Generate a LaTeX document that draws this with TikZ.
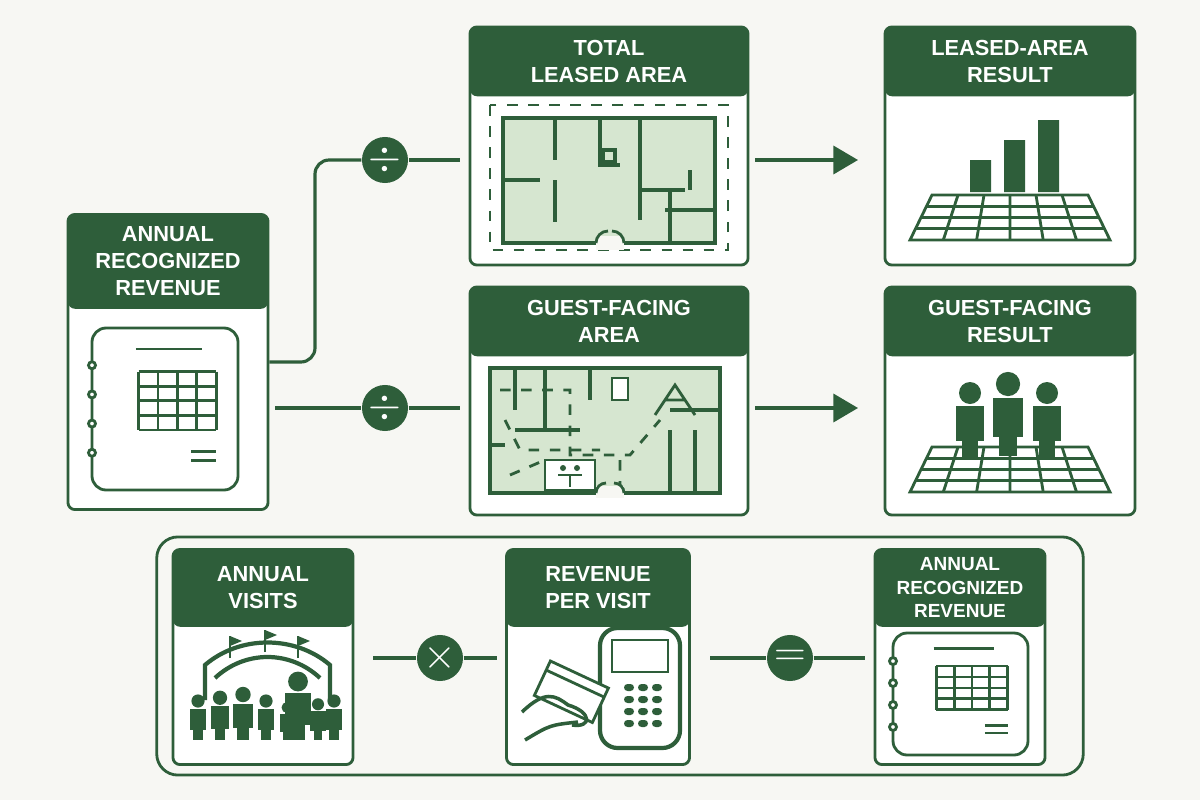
\documentclass[tikz,border=0pt]{standalone}
\usepackage{fontspec}
\setmainfont{Liberation Sans}
\usetikzlibrary{arrows.meta,positioning}
\definecolor{dk}{HTML}{2E5E3A}
\definecolor{lt}{HTML}{D6E6D0}
\definecolor{bg}{HTML}{F7F7F3}
\tikzset{
  panel/.style={draw=dk,line width=0.8pt,rounded corners=2pt,fill=white,inner sep=0pt},
  head/.style={fill=dk,text=white,rounded corners=2pt,inner sep=0pt,align=center,
    font=\fontsize{6.2}{7.6}\selectfont\bfseries},
  op/.style={circle,fill=dk,text=white,minimum size=0.46cm,inner sep=0pt,font=\bfseries\large},
  link/.style={draw=dk,line width=0.9pt},
  ink/.style={draw=dk,line width=0.8pt},
  person/.style={fill=dk}
}
\newcommand\ledger[4]{% x, y, width, height
  \begin{scope}[shift={(#1,#2)}]
    \draw[ink,rounded corners=4pt] (0,0) rectangle (#3,#4);
    \foreach \k in {1,...,4} \draw[ink,fill=white] (0,{#4*(0.05+0.18*\k)}) circle (3.5);
    \draw[ink] ({#3*0.3},{#4*0.13}) -- ({#3*0.75},{#4*0.13});
    \foreach \r in {0,...,4} \draw[ink] ({#3*0.32},{#4*(0.27+0.09*\r)}) -- ({#3*0.85},{#4*(0.27+0.09*\r)});
    \foreach \c in {0,...,4} \draw[ink] ({#3*(0.32+0.1325*\c)},{#4*0.27}) -- ({#3*(0.32+0.1325*\c)},{#4*0.63});
    \draw[ink] ({#3*0.68},{#4*0.76}) -- ({#3*0.85},{#4*0.76});
    \draw[ink] ({#3*0.68},{#4*0.82}) -- ({#3*0.85},{#4*0.82});
  \end{scope}}
\newcommand\floorgrid[1]{% top y
  \draw[ink,fill=white] (932,#1) -- (1088,#1) -- (1110,#1+45) -- (910,#1+45) -- cycle;
  \foreach \t in {0.25,0.5,0.75} \draw[ink] (932-22*\t,#1+45*\t) -- (1088+22*\t,#1+45*\t);
  \foreach \s in {1,...,5} \draw[ink] (932+26*\s,#1) -- (910+33.3*\s,#1+45);}
\newcommand\visitor[3]{% x, head y, scale
  \fill[person] (#1,#2) circle (11*#3);
  \fill[person] (#1-14*#3,#2+13*#3) rectangle (#1+14*#3,#2+48*#3);
  \fill[person] (#1-8*#3,#2+45*#3) rectangle (#1+8*#3,#2+65*#3);}
\begin{document}
\begin{tikzpicture}[x=0.01cm,y=-0.01cm]
\useasboundingbox[fill=bg] (0,0) rectangle (1200,800);

% panels
\node[panel,minimum width=2cm,minimum height=2.95cm] (rev) at (168,362) {};
\node[head,minimum width=2cm,minimum height=0.95cm,anchor=north] (revh) at (rev.north) {ANNUAL\\RECOGNIZED\\REVENUE};
\node[panel,minimum width=2.78cm,minimum height=2.38cm] (lease) at (609,146) {};
\node[head,minimum width=2.78cm,minimum height=0.7cm,anchor=north] (leaseh) at (lease.north) {TOTAL\\LEASED AREA};
\node[panel,minimum width=2.5cm,minimum height=2.38cm] (lres) at (1010,146) {};
\node[head,minimum width=2.5cm,minimum height=0.7cm,anchor=north] (lresh) at (lres.north) {LEASED-AREA\\RESULT};
\node[panel,minimum width=2.78cm,minimum height=2.28cm] (guest) at (609,401) {};
\node[head,minimum width=2.78cm,minimum height=0.7cm,anchor=north] (guesth) at (guest.north) {GUEST-FACING\\AREA};
\node[panel,minimum width=2.5cm,minimum height=2.28cm] (gres) at (1010,401) {};
\node[head,minimum width=2.5cm,minimum height=0.7cm,anchor=north] (gresh) at (gres.north) {GUEST-FACING\\RESULT};

\node[panel,rounded corners=6pt,fill=none,minimum width=9.26cm,minimum height=2.38cm] (calc) at (620,656) {};
\node[panel,minimum width=1.8cm,minimum height=2.15cm] (visits) at (263,657) {};
\node[head,minimum width=1.8cm,minimum height=0.78cm,anchor=north] (visitsh) at (visits.north) {ANNUAL\\VISITS};
\node[panel,minimum width=1.83cm,minimum height=2.15cm] (pervisit) at (598,657) {};
\node[head,minimum width=1.83cm,minimum height=0.78cm,anchor=north] (pervisith) at (pervisit.north) {REVENUE\\PER VISIT};
\node[panel,minimum width=1.7cm,minimum height=2.15cm] (rev2) at (960,657) {};
\node[head,minimum width=1.7cm,minimum height=0.78cm,anchor=north,font=\fontsize{5.4}{6.6}\selectfont\bfseries] (rev2h) at (rev2.north) {ANNUAL\\RECOGNIZED\\REVENUE};

% operators
\node[op] (div1) at (385,160) {$\div$};
\node[op] (div2) at (385,408) {$\div$};
\node[op] (times) at (440,658) {$\times$};
\node[op] (equal) at (790,658) {$=$};

% connectors
\coordinate (top) at (460,160);
\coordinate (split) at (275,408);
\coordinate (a1) at (755,160);
\coordinate (a2) at (858,160);
\coordinate (b1) at (755,408);
\coordinate (b2) at (858,408);
\coordinate (c1) at (373,658);
\coordinate (c2) at (497,658);
\coordinate (d1) at (710,658);
\coordinate (d2) at (865,658);
\draw[link,rounded corners=4pt] (rev.east) -- (315,362) -- (315,160) -- (div1);
\draw[link] (div1) -- (top);
\draw[link] (split) -- (div2) -- (460,408);
\draw[link,-{Triangle[length=7pt,width=8pt]}] (a1) -- (a2);
\draw[link,-{Triangle[length=7pt,width=8pt]}] (b1) -- (b2);
\draw[link] (c1) -- (times) -- (c2);
\draw[link] (d1) -- (equal) -- (d2);

% ledgers
\ledger{92}{328}{146}{162}
\ledger{893}{633}{135}{122}

% leased plan
\draw[ink,dashed] (490,105) rectangle (728,250);
\draw[ink,fill=lt] (503,118) rectangle (715,243);
\draw[ink,line width=1.3pt] (503,118) rectangle (715,243);
\draw[ink,line width=1.3pt] (555,118) -- (555,160) (503,180) -- (540,180) (555,180) -- (555,222)
  (600,118) -- (600,165) -- (620,165) (640,118) -- (640,220) (640,190) -- (685,190)
  (665,210) -- (715,210) (670,190) -- (670,243) (690,170) -- (690,190) (603,150) rectangle (615,162);
\fill[bg] (596,236) rectangle (624,250);
\draw[ink] (596,243) arc (180:270:12) (624,243) arc (0:-90:12);

% bar chart
\floorgrid{195}
\fill[dk] (970,160) rectangle (991,192) (1004,140) rectangle (1025,192) (1038,120) rectangle (1059,192);

% guest plan
\draw[ink,fill=lt,line width=1.3pt] (490,368) rectangle (720,493);
\draw[ink,line width=1.3pt] (515,368) -- (515,410) (545,368) -- (545,430) (515,430) -- (580,430) (590,368) -- (590,400)
  (670,410) -- (720,410) (670,430) -- (670,493) (695,430) -- (695,493) (490,445) -- (505,445);
\draw[ink,dashed] (500,390) -- (570,390) -- (570,455) -- (630,455) -- (660,420) (505,420) -- (520,450) -- (600,450)
  (510,475) -- (545,460) (620,460) -- (620,485);
\draw[ink,fill=white] (545,460) rectangle (595,490);
\draw[ink] (558,475) -- (582,475) (570,475) -- (570,487);
\fill[dk] (563,468) circle (3) (577,468) circle (3);
\draw[ink,fill=white] (612,378) rectangle (628,400);
\draw[ink] (655,415) -- (675,385) -- (695,415) (665,400) -- (685,400);
\fill[bg] (596,486) rectangle (624,498);
\draw[ink] (596,493) arc (180:270:10) (624,493) arc (0:-90:10);

% people result
\floorgrid{447}
\visitor{970}{393}{1}
\visitor{1008}{384}{1.1}
\visitor{1047}{393}{1}

% visits icon
\draw[ink,line width=1.2pt] (205,700) -- (205,665) .. controls (240,635) and (295,635) .. (330,665) -- (330,700);
\draw[ink,line width=1.2pt] (215,678) .. controls (245,650) and (290,650) .. (320,678);
\foreach \fx/\fy in {230/648,265/642,298/648} {
  \draw[ink] (\fx,\fy+10) -- (\fx,\fy-12);
  \fill[dk] (\fx,\fy-12) -- (\fx+12,\fy-7) -- (\fx,\fy-2) -- cycle;}
\foreach \px/\s in {198/0.6,220/0.65,243/0.7,266/0.6,287/0.5,298/0.9,318/0.55,334/0.6}
  \visitor{\px}{740-\s*65}{\s};

% payment icon
\draw[ink,rounded corners=5pt,line width=1.2pt] (600,628) rectangle (680,748);
\draw[ink] (612,640) rectangle (668,672);
\foreach \i in {0,1,2} \foreach \j in {0,...,3}
  \fill[dk,rounded corners=1pt] (624+\i*14,684+\j*12) rectangle (634+\i*14,691+\j*12);
\draw[ink,fill=white,rotate around={-25:(570,690)}] (540,672) rectangle (604,710);
\draw[ink,rotate around={-25:(570,690)}] (540,682) -- (604,682);
\draw[ink,line width=1pt] (522,712) .. controls (545,690) and (555,695) .. (568,705)
  .. controls (592,712) and (592,728) .. (572,725) (525,740) .. controls (550,725) .. (578,722);
\end{tikzpicture}
\end{document}
